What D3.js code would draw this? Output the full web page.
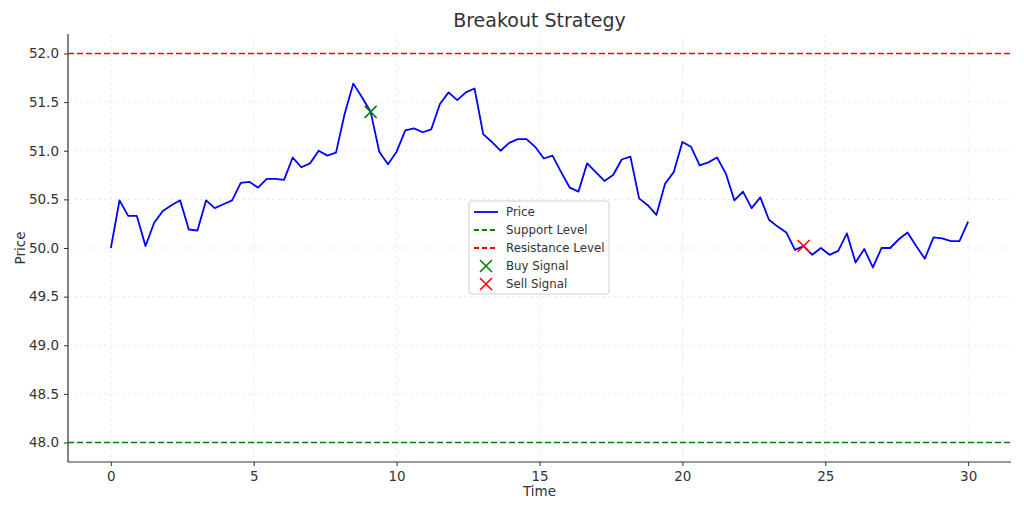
<!DOCTYPE html>
<html>
<head>
<meta charset="utf-8">
<script src="https://cdn.jsdelivr.net/npm/d3@7"></script>
<style>
  body { margin: 0; background: #fff; }
  svg text { font-family: "DejaVu Sans", sans-serif; fill: #333; }
</style>
</head>
<body>
<svg id="chart" width="1024" height="512"></svg>
<script>
// price series (100 points over time 0..30)
const price = [
  50.00, 50.49, 50.33, 50.33, 50.02, 50.26, 50.38, 50.44, 50.49, 50.19,
  50.18, 50.49, 50.41, 50.45, 50.49, 50.67, 50.68, 50.62, 50.71, 50.71,
  50.70, 50.93, 50.83, 50.87, 51.00, 50.95, 50.98, 51.38, 51.69, 51.55,
  51.40, 50.99, 50.86, 50.99, 51.21, 51.23, 51.19, 51.22, 51.48, 51.60,
  51.52, 51.60, 51.64, 51.17, 51.09, 51.00, 51.08, 51.12, 51.12, 51.04,
  50.92, 50.95, 50.78, 50.62, 50.58, 50.87, 50.78, 50.69, 50.75, 50.91,
  50.94, 50.51, 50.44, 50.34, 50.66, 50.78, 51.09, 51.04, 50.85, 50.88,
  50.93, 50.77, 50.49, 50.58, 50.41, 50.52, 50.29, 50.22, 50.16, 49.98,
  50.02, 49.93, 50.00, 49.93, 49.97, 50.15, 49.85, 49.99, 49.80, 50.00,
  50.00, 50.09, 50.16, 50.02, 49.89, 50.11, 50.10, 50.07, 50.07, 50.27
];
const time = price.map((_, i) => i * 30 / 99);

const supportLevel = 48;
const resistanceLevel = 52;
const buyIdx = [30];
const sellIdx = [80];

const xTicks = [0, 5, 10, 15, 20, 25, 30];
const yTicks = [48.0, 48.5, 49.0, 49.5, 50.0, 50.5, 51.0, 51.5, 52.0];

const legendItems = [
  { label: 'Price', type: 'line', color: '#0000ff', dash: null },
  { label: 'Support Level', type: 'line', color: 'green', dash: '5,3' },
  { label: 'Resistance Level', type: 'line', color: 'red', dash: '5,3' },
  { label: 'Buy Signal', type: 'x', color: 'green' },
  { label: 'Sell Signal', type: 'x', color: 'red' }
];

const svg = d3.select('#chart');
const mLeft = 68, mRight = 1011, mTop = 34, mBottom = 462;

const x = d3.scaleLinear().domain([-1.5, 31.5]).range([mLeft, mRight]);
const y = d3.scaleLinear().domain([47.8, 52.2]).range([mBottom, mTop]);

// grille
const grid = svg.append('g').attr('stroke', '#e6e6e6').attr('stroke-width', 0.8)
  .attr('stroke-dasharray', '3,3');
grid.selectAll('.gx').data(xTicks).enter().append('line')
  .attr('x1', d => x(d)).attr('x2', d => x(d)).attr('y1', mTop).attr('y2', mBottom);
grid.selectAll('.gy').data(yTicks).enter().append('line')
  .attr('y1', d => y(d)).attr('y2', d => y(d)).attr('x1', mLeft).attr('x2', mRight);

// axes
const xAxis = svg.append('g')
  .attr('transform', `translate(0,${mBottom})`)
  .call(d3.axisBottom(x).tickValues(xTicks).tickSize(4).tickPadding(5).tickFormat(d3.format('d')));
const yAxis = svg.append('g')
  .attr('transform', `translate(${mLeft},0)`)
  .call(d3.axisLeft(y).tickValues(yTicks).tickSize(4).tickPadding(5).tickFormat(d3.format('.1f')));
[xAxis, yAxis].forEach(a => {
  a.select('.domain').attr('stroke', '#333').attr('stroke-width', 1.2);
  a.selectAll('.tick line').attr('stroke', '#333');
  a.selectAll('.tick text').attr('font-size', 13.5).style('fill', '#333');
});
xAxis.select('.domain').attr('d', `M${mLeft},0H${mRight}`);
yAxis.select('.domain').attr('d', `M0,${mTop}V${mBottom}`);

// niveaux support / résistance
svg.append('line').attr('x1', mLeft).attr('x2', mRight)
  .attr('y1', y(resistanceLevel)).attr('y2', y(resistanceLevel))
  .attr('stroke', 'red').attr('stroke-width', 1.6).attr('stroke-dasharray', '6,3');
svg.append('line').attr('x1', mLeft).attr('x2', mRight)
  .attr('y1', y(supportLevel)).attr('y2', y(supportLevel))
  .attr('stroke', 'green').attr('stroke-width', 1.6).attr('stroke-dasharray', '6,3');

// courbe de prix
const line = d3.line().x((d, i) => x(time[i])).y(d => y(d));
svg.append('path').datum(price)
  .attr('d', line)
  .attr('fill', 'none')
  .attr('stroke', '#0000ff')
  .attr('stroke-width', 1.8)
  .attr('stroke-linejoin', 'round');

// signaux
function drawX(g, cx, cy, color, s) {
  g.append('path')
    .attr('d', `M${cx - s},${cy - s}L${cx + s},${cy + s}M${cx - s},${cy + s}L${cx + s},${cy - s}`)
    .attr('stroke', color).attr('stroke-width', 1.6).attr('fill', 'none');
}
const marks = svg.append('g');
buyIdx.forEach(i => drawX(marks, x(time[i]), y(price[i]), 'green', 6));
sellIdx.forEach(i => drawX(marks, x(time[i]), y(price[i]), 'red', 6));

// titres
svg.append('text').attr('x', (mLeft + mRight) / 2).attr('y', 27)
  .attr('text-anchor', 'middle').attr('font-size', 19).text('Breakout Strategy');
svg.append('text').attr('x', (mLeft + mRight) / 2).attr('y', 496)
  .attr('text-anchor', 'middle').attr('font-size', 13.5).text('Time');
svg.append('text').attr('transform', `translate(25,${(mTop + mBottom) / 2}) rotate(-90)`)
  .attr('text-anchor', 'middle').attr('font-size', 13.5).text('Price');

// légende
const lg = svg.append('g').attr('transform', 'translate(469,201)');
lg.append('rect').attr('width', 140).attr('height', 93).attr('rx', 3)
  .attr('fill', 'white').attr('fill-opacity', 0.85)
  .attr('stroke', '#d0d0d0').attr('stroke-width', 1);
legendItems.forEach((d, i) => {
  const cy = 11 + i * 18;
  if (d.type === 'line') {
    lg.append('line').attr('x1', 5).attr('x2', 29).attr('y1', cy).attr('y2', cy)
      .attr('stroke', d.color).attr('stroke-width', 1.8)
      .attr('stroke-dasharray', d.dash);
  } else {
    drawX(lg, 17, cy, d.color, 6);
  }
  lg.append('text').attr('x', 37).attr('y', cy + 4).attr('font-size', 11.8).text(d.label);
});
</script>
</body>
</html>
